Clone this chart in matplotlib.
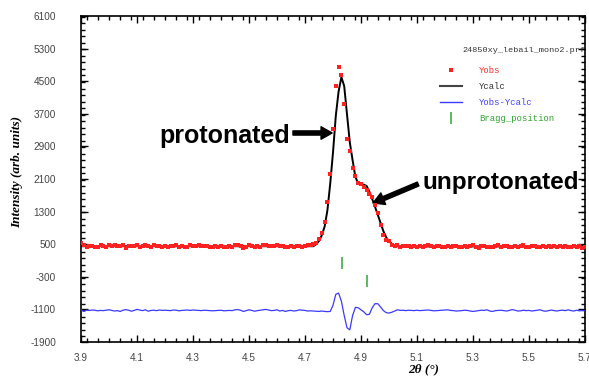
import numpy as np
import matplotlib
matplotlib.use("Agg")
import matplotlib.pyplot as plt
from matplotlib.lines import Line2D

# ---- data (2theta grid: 3.90 .. 5.70, step 0.01) ----
two_theta_start = 3.90
two_theta_step = 0.01

yobs = [
    520, 470, 430, 455, 450, 440, 430, 470, 460, 425,
    480, 465, 470, 445, 455, 470, 400, 450, 460, 455,
    480, 440, 460, 490, 455, 420, 470, 445, 460, 430,
    455, 420, 450, 445, 470, 430, 455, 425, 440, 470,
    465, 455, 470, 450, 445, 455, 430, 440, 465, 420,
    450, 440, 430, 460, 435, 470, 490, 455, 410, 440,
    480, 460, 430, 460, 440, 470, 490, 460, 450, 445,
    470, 455, 460, 430, 440, 450, 425, 445, 460, 430,
    460, 470, 480, 500,
    540, 620, 780, 1040, 1540, 2215, 3330, 4380, 4840, 4650,
    3940, 3090, 2795, 2363, 2181, 2010, 1977, 1911, 1830, 1725,
    1651, 1450, 1258, 980, 726, 610, 578, 480, 456, 470,
    440, 450, 460, 445, 430, 455,
    440, 460, 430, 445, 470, 450, 430, 455, 460, 440,
    425, 450, 435, 445, 460, 420, 440, 455, 430, 445,
    470, 430, 410, 445, 455, 430, 420, 440, 450, 470,
    430, 450, 445, 420, 440, 460, 430, 450, 470, 440,
    425, 445, 460, 430, 440, 455, 420, 450, 440, 460,
    430, 445, 420, 455, 440, 430, 460, 420, 445, 410,
    430,
]

ycalc = (
    [450] * 84 +
    [500, 580, 720, 930, 1330, 1980, 2750, 3650, 4250, 4600,
     4380, 3680, 3000, 2560, 2150, 1990, 1970, 1960, 1930, 1790,
     1610, 1420, 1220, 1020, 820, 670, 570, 510, 475, 460] +
    [445] * 67
)

ydiff = [
    -1110, -1150, -1120, -1125, -1115, -1120, -1135, -1125, -1130, -1120,
    -1110, -1125, -1140, -1130, -1150, -1120, -1105, -1120, -1145, -1125,
    -1100, -1115, -1130, -1110, -1145, -1125, -1120, -1130, -1115, -1125,
    -1120, -1125, -1130, -1115, -1120, -1135, -1125, -1120, -1115, -1125,
    -1115, -1120, -1125, -1130, -1120, -1125, -1130, -1135, -1130, -1125,
    -1120, -1135, -1130, -1125, -1130, -1110, -1105, -1120, -1150, -1130,
    -1110, -1125, -1145, -1130, -1120, -1110, -1100, -1115, -1130, -1125,
    -1110, -1140, -1125, -1150, -1130, -1125, -1140, -1130, -1110, -1120,
    -1125, -1140, -1135, -1140, -1145, -1150, -1140, -1150, -1155,
    -1150, -1000, -730, -700, -900, -1250, -1550, -1600, -1250, -1050,
    -1060, -1110, -1160, -1230, -1220, -1060, -960, -960, -1040, -1130,
    -1180, -1190, -1170, -1140, -1110,
    -1125, -1120, -1130, -1120, -1125, -1130,
    -1120, -1130, -1125, -1120, -1115, -1125, -1135, -1130, -1125, -1120,
    -1115, -1110, -1125, -1130, -1140, -1135, -1130, -1120, -1125, -1140,
    -1150, -1140, -1130, -1120, -1125, -1110, -1140, -1150, -1130, -1125,
    -1120, -1130, -1140, -1125, -1105, -1120, -1140, -1135, -1120, -1130,
    -1125, -1140, -1130, -1120, -1110, -1135, -1145, -1130, -1115, -1130,
    -1140, -1125, -1120, -1130, -1110, -1130, -1140, -1120, -1135, -1125,
    -1130,
]

bragg_pos = [4.832, 4.921]
bragg_y = [45, -395]

x_ticks = [3.9, 4.1, 4.3, 4.5, 4.7, 4.9, 5.1, 5.3, 5.5, 5.7]
y_ticks = [-1900, -1100, -300, 500, 1300, 2100, 2900, 3700, 4500, 5300, 6100]

n = len(yobs)
two_theta = two_theta_start + two_theta_step * np.arange(n)

# ---- figure ----
fig = plt.figure(figsize=(5.89, 3.78), dpi=100)
ax = fig.add_axes([81/589, 1-342/378, 504/589, 326/378])

ax.plot(two_theta, ycalc, color='black', lw=1.4, zorder=3)
ax.plot(two_theta, yobs, ls='none', marker='s', ms=2.2, color='#ff2020',
        markeredgewidth=0, zorder=4)
ax.plot(two_theta, ydiff, color='#3a3aff', lw=0.9, zorder=3)
ax.plot(bragg_pos, bragg_y, ls='none', marker='|', ms=8, mew=1.1,
        color='#30a830', zorder=3)

ax.set_xlim(3.9, 5.7)
ax.set_ylim(-1900, 6100)
ax.set_xticks(x_ticks)
ax.set_yticks(y_ticks)
ax.set_xticklabels([f"{v:.1f}" for v in x_ticks])
ax.set_yticklabels([str(v) for v in y_ticks])
ax.xaxis.set_minor_locator(matplotlib.ticker.MultipleLocator(0.04))
ax.yaxis.set_minor_locator(matplotlib.ticker.MultipleLocator(160))

ax.tick_params(which='both', direction='in', top=True, right=True,
               colors='black', labelcolor='#444444', labelsize=7.2, width=1)
ax.tick_params(which='major', length=5)
ax.tick_params(which='minor', length=3)
ax.tick_params(axis='y', pad=18)
ax.tick_params(axis='x', pad=8)
for lab in ax.get_xticklabels() + ax.get_yticklabels():
    lab.set_family('Liberation Sans')
for sp in ax.spines.values():
    sp.set_linewidth(1.2)

ax.set_ylabel('Intensity (arb. units)', family='Liberation Serif',
              fontweight='bold', style='italic', fontsize=9.5, va='center')
ax.yaxis.set_label_coords(-0.127, 0.52)
ax.set_xlabel('2θ (°)', family='Liberation Serif', fontweight='bold',
              style='italic', fontsize=9.5, va='center')
ax.xaxis.set_label_coords(0.679, -0.084)

# legend
mono = {'family': 'Liberation Mono', 'size': 6.1}
ax.text((462-81)/504, 1-(50-16)/326, '24850xy_lebail_mono2.prf',
        transform=ax.transAxes, ha='left', va='center', fontdict=mono,
        color='#333333', clip_on=False)
handles = [
    Line2D([], [], ls='none', marker='s', ms=2.2, color='#ff2020', mew=0),
    Line2D([], [], color='#444444', lw=1.5),
    Line2D([], [], color='#3a3aff', lw=1),
    Line2D([], [], ls='none', marker='|', ms=8, mew=1.1, color='#30a830'),
]
labels = ['Yobs', 'Ycalc', 'Yobs-Ycalc', 'Bragg_position']
ax.legend(handles, labels, loc='upper left',
          bbox_to_anchor=((440-81)/504, 1-(66-16)/326),
          frameon=False, prop={'family': 'Liberation Mono', 'size': 6.4},
          borderpad=0, borderaxespad=0,
          handlelength=2.5, handletextpad=1.9, labelspacing=0.8,
          labelcolor=['#ff3030', '#333333', '#4040ff', '#30a030'])

# annotations
ax.text(4.646, 3150, 'protonated', family='Liberation Sans',
        fontweight='bold', fontsize=18, ha='right', va='center')
ax.annotate('', xy=(4.797, 3229), xytext=(4.657, 3229),
            arrowprops=dict(facecolor='black', edgecolor='black', width=3,
                            headwidth=9, headlength=8, shrink=0))
ax.text(5.121, 2002, 'unprotonated', family='Liberation Sans',
        fontweight='bold', fontsize=17.5, ha='left', va='center')
ax.annotate('', xy=(4.943, 1511), xytext=(5.104, 1977),
            arrowprops=dict(facecolor='black', edgecolor='black', width=3,
                            headwidth=9, headlength=8, shrink=0))

fig.savefig('out.png', dpi=100)
